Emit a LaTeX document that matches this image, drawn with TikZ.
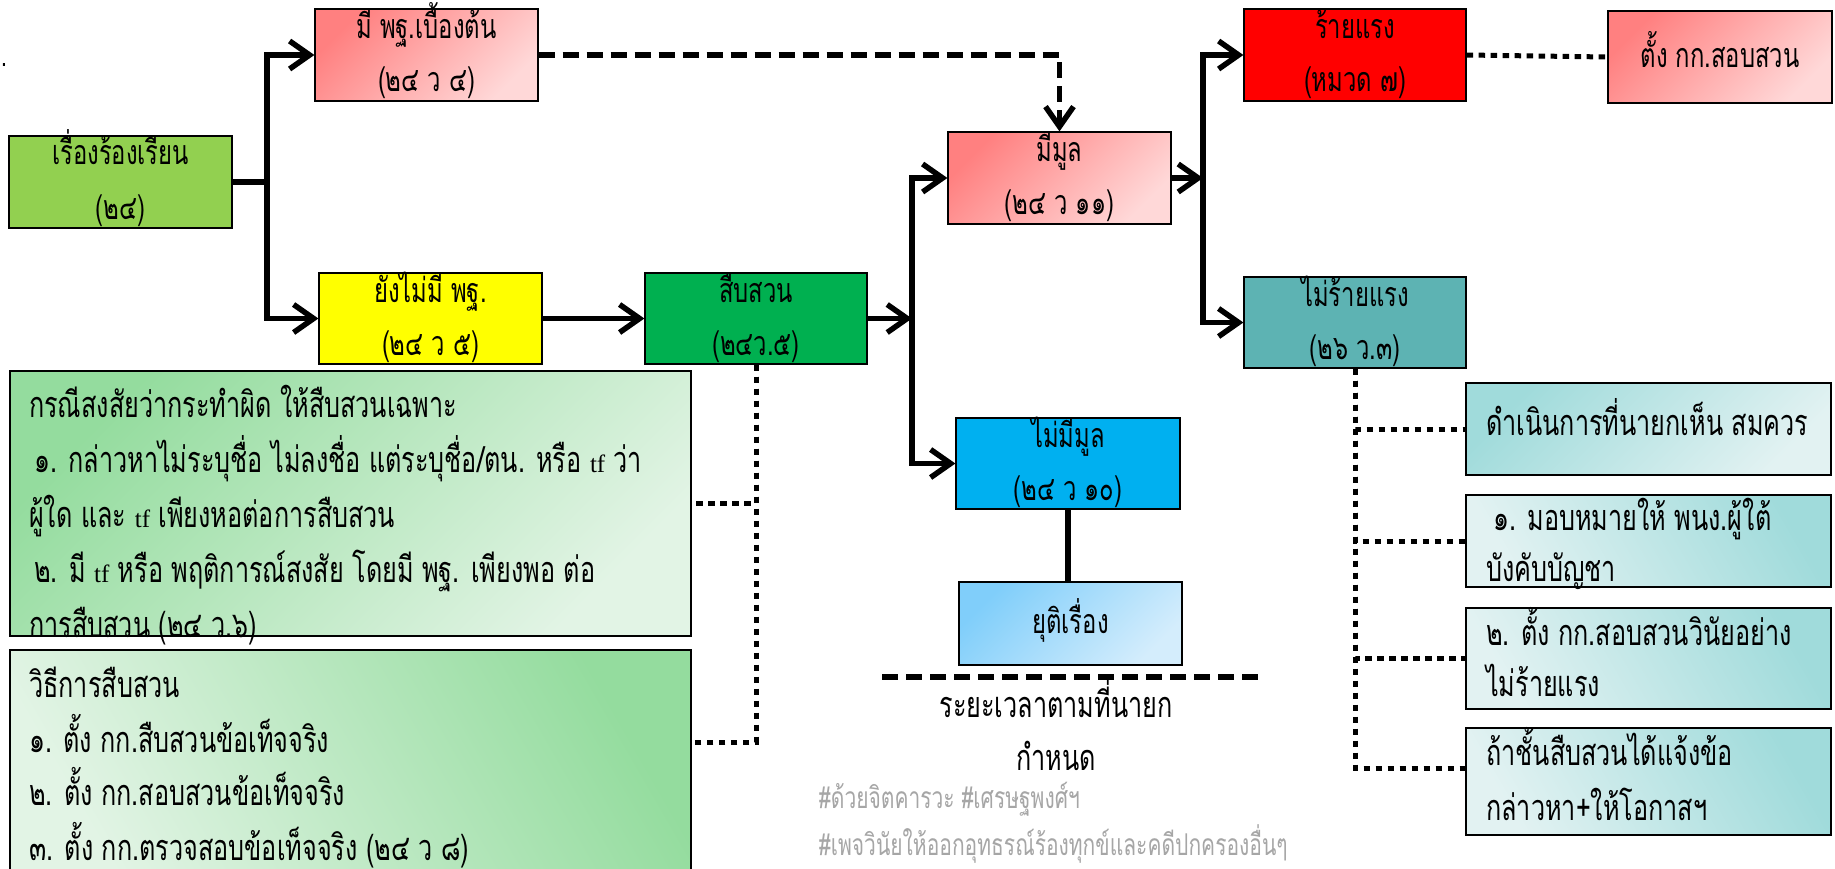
\documentclass[tikz,border=0pt]{standalone}
\usepackage{fontspec}
\usetikzlibrary{arrows.meta}
\newfontfamily\thaifont[Script=Thai,FakeStretch=0.7]{Loma}
\newfontfamily\latinfont{Liberation Serif}
\newcommand\tfword{{\latinfont\fontsize{25}{25}\selectfont tf}}

\definecolor{grass}{RGB}{146,208,80}
\definecolor{pinkA}{RGB}{255,128,128}
\definecolor{pinkB}{RGB}{255,216,216}
\definecolor{sunny}{RGB}{255,255,0}
\definecolor{leaf}{RGB}{0,176,80}
\definecolor{sky}{RGB}{0,176,240}
\definecolor{skyA}{RGB}{128,206,250}
\definecolor{skyB}{RGB}{212,237,252}
\definecolor{fire}{RGB}{255,0,0}
\definecolor{tealbox}{RGB}{93,179,179}
\definecolor{tealA}{RGB}{160,219,219}
\definecolor{tealB}{RGB}{226,242,242}
\definecolor{mintA}{RGB}{148,220,158}
\definecolor{mintB}{RGB}{226,244,229}
\definecolor{hashgray}{RGB}{166,166,166}

\tikzset{
  box/.style={draw=black, line width=1.2pt, inner sep=0pt, minimum width=223pt, minimum height=92pt},
  pinkbox/.style={box, top color=pinkA, bottom color=pinkB, shading angle=45},
  skybox/.style={box, top color=skyA, bottom color=skyB, shading angle=45},
  mintbox/.style={box, top color=mintA, bottom color=mintB, shading angle=#1},
  tealbox/.style={box, top color=tealA, bottom color=tealB, shading angle=#1},
  lbl/.style={anchor=base, inner sep=0pt, font=\thaifont\fontsize{34}{53}\selectfont},
  rowtext/.style={anchor=base west, inner sep=0pt, font=\thaifont\fontsize{36}{54}\selectfont},
  flow/.style={line width=5.5pt},
  flowarrow/.style={flow, -{Straight Barb[length=20pt,width=28pt]}},
  dashline/.style={line width=5.5pt, dash pattern=on 16pt off 8pt},
  dotline/.style={line width=5pt, dash pattern=on 6.5pt off 5.5pt},
}

\begin{document}
\begin{tikzpicture}[x=1pt,y=-1pt]
  \path[use as bounding box, fill=white] (0,0) rectangle (1835,868);
  \node[rowtext, font=\thaifont\fontsize{30}{30}\selectfont] (dot) at (1,66) {.};

  \node[box, fill=grass] (cmp) at (120.5,182) {};
  \node[pinkbox] (pk1) at (426.5,55) {};
  \node[box, fill=sunny, minimum height=91pt] (ylw) at (430.5,318.5) {};
  \node[box, fill=leaf, minimum width=222pt, minimum height=91pt] (sub) at (756,318.5) {};
  \node[pinkbox] (mml) at (1059.5,178) {};
  \node[box, fill=sky, minimum width=224pt, minimum height=91pt] (nml) at (1068,463.5) {};
  \node[skybox, minimum height=83pt] (stp) at (1070.5,623.5) {};
  \node[box, fill=fire, minimum width=222pt] (red) at (1355,55) {};
  \node[pinkbox, minimum width=224pt] (tk) at (1720,57) {};
  \node[box, fill=tealbox, minimum width=222pt, minimum height=91pt] (ten) at (1355,322.5) {};
  \foreach \b/\o/\t in {cmp/29/{เรื่องร้องเรียน}, cmp/84/{(๒๔)},
      pk1/30/{มี พฐ.เบื้องต้น}, pk1/83/{(๒๔ ว ๔)}, ylw/30/{ยังไม่มี พฐ.}, ylw/83/{(๒๔ ว ๕)},
      sub/30/{สืบสวน}, sub/83/{(๒๔ว.๕)}, mml/30/{มีมูล}, mml/83/{(๒๔ ว ๑๑)},
      nml/30/{ไม่มีมูล}, nml/83/{(๒๔ ว ๑๐)}, stp/52/{ยุติเรื่อง},
      red/30/{ร้ายแรง}, red/83/{(หมวด ๗)}, tk/57/{ตั้ง กก.สอบสวน},
      ten/30/{ไม่ร้ายแรง}, ten/83/{(๒๖ ว.๓)}}
    \node[lbl] (\b-\o) at ([yshift=-\o]\b.north) {\t};

  \node[tealbox=45, minimum width=365pt] (bxA) at (1648.5,429) {};
  \node[tealbox=-60, minimum width=365pt] (bxB) at (1648.5,541) {};
  \node[tealbox=-60, minimum width=365pt, minimum height=101pt] (bxC) at (1648.5,658.5) {};
  \node[tealbox=-60, minimum width=365pt, minimum height=107pt] (bxD) at (1648.5,781.5) {};
  \foreach \x/\y/\t [count=\i] in {1486/435/{ดำเนินการที่นายกเห็น สมควร},
      1493/530/{๑. มอบหมายให้ พนง.ผู้ใต้}, 1486/581/{บังคับบัญชา},
      1486/645/{๒. ตั้ง กก.สอบสวนวินัยอย่าง}, 1486/696/{ไม่ร้ายแรง},
      1486/765/{ถ้าชั้นสืบสวนได้แจ้งข้อ}, 1486/820/{กล่าวหา+ให้โอกาสฯ}}
    \node[rowtext] (rt-\i) at (\x,\y) {\t};

  \node[mintbox=45, minimum width=681pt, minimum height=265pt] (cs1) at (350.5,503.5) {};
  \node[mintbox=-60, minimum width=681pt, minimum height=230pt] (cs2) at (350.5,765) {};
  \foreach \x/\y/\t [count=\i] in {29/417/{กรณีสงสัยว่ากระทำผิด ให้สืบสวนเฉพาะ},
      34/472/{๑. กล่าวหาไม่ระบุชื่อ ไม่ลงชื่อ แต่ระบุชื่อ/ตน. หรือ \tfword{} ว่า},
      29/527/{ผู้ใด และ \tfword{} เพียงหอต่อการสืบสวน},
      34/582/{๒. มี \tfword{} หรือ พฤติการณ์สงสัย โดยมี พฐ. เพียงพอ ต่อ},
      29/637/{การสืบสวน (๒๔ ว.๖)}}
    \node[rowtext] (cs1-\i) at (\x,\y) {\t};
  \foreach \y/\t [count=\i] in {697/{วิธีการสืบสวน}, 752/{๑. ตั้ง กก.สืบสวนข้อเท็จจริง},
      805/{๒. ตั้ง กก.สอบสวนข้อเท็จจริง}, 860/{๓. ตั้ง กก.ตรวจสอบข้อเท็จจริง (๒๔ ว ๘)}}
    \node[rowtext] (cs2-\i) at (29,\y) {\t};

  \draw[dashline] (882,677) -- (1259,677);
  \foreach \y/\t [count=\i] in {717/{ระยะเวลาตามที่นายก}, 770/{กำหนด}}
    \node[rowtext, anchor=base] (term-\i) at (1056,\y) {\t};
  \foreach \y/\t [count=\i] in {808/{\#ด้วยจิตคารวะ \#เศรษฐพงศ์ฯ},
      855/{\#เพจวินัยให้ออกอุทธรณ์ร้องทุกข์และคดีปกครองอื่นๆ}}
    \node[rowtext, text=hashgray, font=\thaifont\fontsize{30}{40}\selectfont] (tag-\i) at (819,\y) {\t};

  \coordinate (j1) at (267,182);
  \draw[flow] (cmp.east) -- (j1);
  \draw[flowarrow] (j1) |- (pk1.west);
  \draw[flowarrow] (j1) |- (ylw.west);
  \draw[flowarrow] (ylw.east) -- (sub.west);
  \coordinate (j2) at (912,318.5);
  \draw[flowarrow] (sub.east) -- (j2);
  \draw[flowarrow] (j2) |- (mml.west);
  \draw[flowarrow] (j2) |- (nml.west);
  \coordinate (j3) at (1203,178);
  \draw[flowarrow] (mml.east) -- (j3);
  \draw[flowarrow] (j3) |- (red.west);
  \draw[flowarrow] (j3) |- (ten.west);
  \draw[flow] (nml.south) -- (nml.south |- stp.north);
  \draw[dashline, -{Straight Barb[length=20pt,width=28pt]}] (pk1.east) -| (mml.north);
  \draw[dotline] (red.east) -- (tk.west);
  \coordinate (cs2in) at (cs2.east |- 0,742);
  \draw[dotline] (sub.south) |- (cs1.east);
  \draw[dotline] (sub.south) |- (cs2in);
  \coordinate (bxDin) at (bxD.west |- 0,768);
  \foreach \b in {bxA,bxB,bxC,bxDin}
    \draw[dotline] (ten.south) |- (\b);
\end{tikzpicture}
\end{document}
